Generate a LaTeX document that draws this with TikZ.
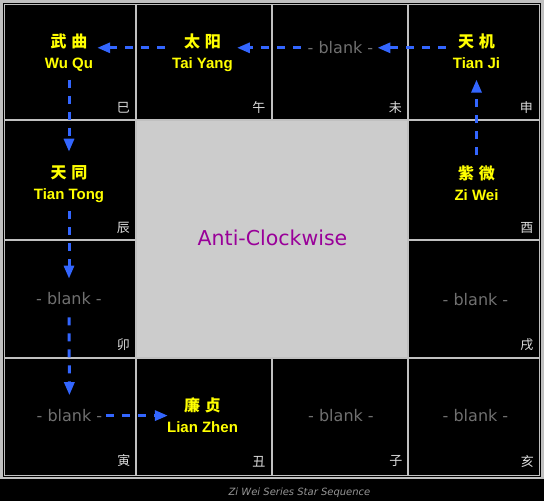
\documentclass[tikz,border=0pt]{standalone}
\usepackage{fontspec}
\setmainfont{DejaVu Sans}
\newfontfamily\namefont{Liberation Sans}
\newfontfamily\cjk{Noto Sans CJK SC}
\usepackage{xcolor}
\usetikzlibrary{arrows.meta}

\definecolor{starYellow}{RGB}{255,255,0}
\definecolor{flowBlue}{RGB}{51,102,255}
\definecolor{gridGray}{RGB}{192,192,192}
\definecolor{blankGray}{RGB}{112,112,112}
\definecolor{centerGray}{RGB}{204,204,204}
\definecolor{antiPurple}{RGB}{153,0,153}
\definecolor{branchWhite}{RGB}{220,220,220}
\definecolor{captionGray}{RGB}{150,150,150}

\newcommand\starlabel[2]{{\cjk\fontsize{16}{21}\selectfont #1}\\#2\vphantom{g}}

\begin{document}
\begin{tikzpicture}[
x=1pt, y=-1pt,
cell/.style={draw=gridGray, line width=1pt},
outerframe/.style={draw=gridGray, line width=2.5pt},
starname/.style={text=starYellow, inner sep=0pt, align=center, font=\namefont\bfseries\fontsize{15}{21}\selectfont},
blanktext/.style={text=blankGray, inner sep=0pt, font=\fontsize{16}{19}\selectfont},
branch/.style={text=branchWhite, inner sep=0pt, anchor=base east, font=\cjk\fontsize{13}{15}\selectfont},
arr/.style={draw=flowBlue, line width=3pt, dash pattern=on 8pt off 8pt, -{Triangle[length=13pt,width=10pt]}}
]
\fill[black] (0,0) rectangle (544,501);
\draw[outerframe] (1.25,1.25) rectangle (542.5,478);
\foreach \xa/\xb in {4/136,136/272,272/408,408/540}
  \foreach \ya/\yb in {4/120,120/239.5,239.5/357.5,357.5/476}
    \draw[cell] (\xa+0.5,\ya+0.5) rectangle (\xb-0.5,\yb-0.5);
\draw[cell, fill=centerGray] (136.5,120.5) rectangle (407.5,357);

\node[text=antiPurple, font=\fontsize{20.5}{24}\selectfont] (dir) at (272.5,237.5) {Anti-Clockwise};

\node[starname] (wuqu) at (69,52.5) {\starlabel{武\hspace{5pt}曲}{Wu Qu}};
\node[starname] (taiyang) at (202.5,52.5) {\starlabel{太\hspace{5pt}阳}{Tai Yang}};
\node[starname] (tianji) at (476.5,52.5) {\starlabel{天\hspace{5pt}机}{Tian Ji}};
\node[starname] (ziwei) at (476.5,184.5) {\starlabel{紫\hspace{5pt}微}{Zi Wei}};
\node[starname] (tiantong) at (69,184.5) {\starlabel{天\hspace{5pt}同}{Tian Tong}};
\node[starname] (lianzhen) at (202.5,416.5) {\starlabel{廉\hspace{5pt}贞}{Lian Zhen}};

\node[blanktext] (blankwei) at (340.5,47.8) {- blank -};
\node[blanktext] (blankxu) at (475.5,299.5) {- blank -};
\node[blanktext] (blankmao) at (69,299) {- blank -};
\node[blanktext] (blankyin) at (69.5,415.6) {- blank -};
\node[blanktext] (blankzi) at (341,415.7) {- blank -};
\node[blanktext] (blankhai) at (475.5,415.7) {- blank -};

\node[branch] (brsi) at (130,112) {巳};
\node[branch] (brwu) at (265.5,112) {午};
\node[branch] (brwei) at (402,112) {未};
\node[branch] (brshen) at (533,112) {申};
\node[branch] (brchen) at (130,232) {辰};
\node[branch] (bryou) at (533.5,232) {酉};
\node[branch] (brmao) at (130,349.5) {卯};
\node[branch] (brxu) at (533.5,349.5) {戌};
\node[branch] (bryin) at (130.5,465.5) {寅};
\node[branch] (brchou) at (265.5,466) {丑};
\node[branch] (brzi) at (402.5,465.5) {子};
\node[branch] (brhai) at (534,466) {亥};

\node[text=captionGray, font=\itshape\fontsize{10}{12}\selectfont] (caption) at (299.5,493) {Zi Wei Series Star Sequence};

\draw[arr, shorten <=7pt, shorten >=4pt] (tianji.west |- blankwei) -- (blankwei.east);
\draw[arr, shorten <=7pt, shorten >=4pt] (blankwei.west) -- (taiyang.east |- blankwei);
\draw[arr, shorten <=7pt, shorten >=4pt] (taiyang.west |- blankwei) -- (wuqu.east |- blankwei);
\draw[arr, shorten <=8pt, shorten >=14pt] (wuqu) -- (tiantong);
\draw[arr, shorten <=8pt, shorten >=14pt] (tiantong) -- (blankmao);
\draw[arr, shorten <=12pt, shorten >=14pt] (blankmao) -- (blankyin);
\draw[arr, shorten <=4pt, shorten >=-1pt] (blankyin.east) -- (lianzhen.west |- blankyin);
\draw[arr, shorten <=10pt, shorten >=8pt] (ziwei) -- (tianji);
\end{tikzpicture}
\end{document}
